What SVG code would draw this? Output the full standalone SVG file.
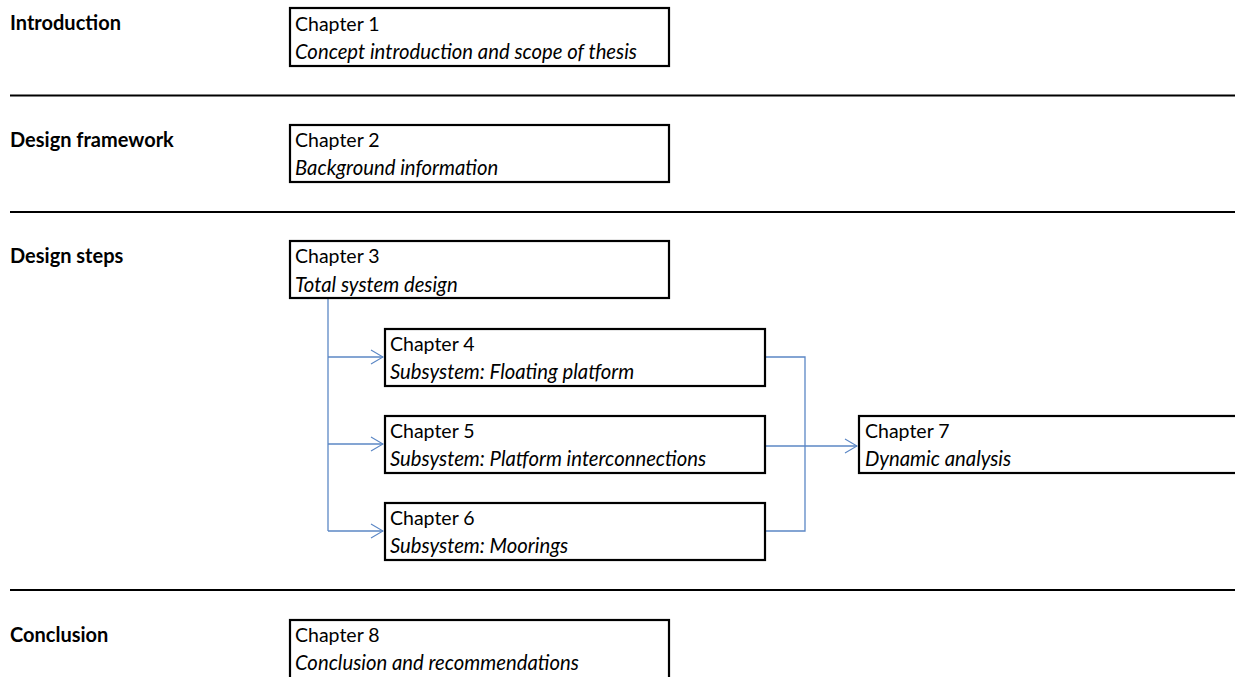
<svg xmlns="http://www.w3.org/2000/svg" width="1235" height="677" viewBox="0 0 1235 677">
<defs>
<marker id="arr" viewBox="0 0 14 16" refX="13" refY="8" markerWidth="14" markerHeight="16" markerUnits="userSpaceOnUse" orient="auto">
<path d="M1,1 L13,8 L1,15" fill="none" stroke="#5b87c5" stroke-width="1.2"/>
</marker>
<style>
.box{fill:#fff;stroke:#000;stroke-width:2.2}
.t{font-family:Lato,"Open Sans","Noto Sans",sans-serif;font-size:19.5px;fill:#000}
.i{font-style:italic;font-size:20.3px}
.h{font-family:Lato,"Open Sans","Noto Sans",sans-serif;font-size:20px;font-weight:bold;fill:#000}
.sep{stroke:#000;stroke-width:2}
.c{fill:none;stroke:#5b87c5;stroke-width:1.3}
</style>
</defs>
<rect width="1235" height="677" fill="#fff"/>
<g id="separators">
<line class="sep" x1="10" y1="95.5" x2="1235" y2="95.5"/>
<line class="sep" x1="10" y1="212" x2="1235" y2="212"/>
<line class="sep" x1="10" y1="590" x2="1235" y2="590"/>
</g>
<g id="labels">
<text class="h" x="10" y="30">Introduction</text>
<text class="h" x="10" y="147">Design framework</text>
<text class="h" x="10" y="263">Design steps</text>
<text class="h" x="10" y="642">Conclusion</text>
</g>
<g id="connectors">
<polyline class="c" points="328,298 328,531"/>
<line class="c" x1="328" y1="357" x2="383" y2="357" marker-end="url(#arr)"/>
<line class="c" x1="328" y1="444" x2="383" y2="444" marker-end="url(#arr)"/>
<line class="c" x1="328" y1="531" x2="383" y2="531" marker-end="url(#arr)"/>
<polyline class="c" points="765,357 805,357 805,531 765,531"/>
<line class="c" x1="765" y1="446" x2="857" y2="446" marker-end="url(#arr)"/>
</g>
<g id="ch1"><rect class="box" x="290" y="8" width="379" height="58"/>
<text class="t" x="295" y="31">Chapter 1</text><text class="t i" x="295" y="59">Concept introduction and scope of thesis</text></g>
<g id="ch2"><rect class="box" x="290" y="125" width="379" height="57"/>
<text class="t" x="295" y="147">Chapter 2</text><text class="t i" x="295" y="175">Background information</text></g>
<g id="ch3"><rect class="box" x="290" y="241" width="379" height="57"/>
<text class="t" x="295" y="263">Chapter 3</text><text class="t i" x="295" y="292">Total system design</text></g>
<g id="ch4"><rect class="box" x="385" y="329" width="380" height="57"/>
<text class="t" x="390" y="351">Chapter 4</text><text class="t i" x="390" y="379">Subsystem: Floating platform</text></g>
<g id="ch5"><rect class="box" x="385" y="416" width="380" height="57"/>
<text class="t" x="390" y="438">Chapter 5</text><text class="t i" x="390" y="466">Subsystem: Platform interconnections</text></g>
<g id="ch6"><rect class="box" x="385" y="503" width="380" height="57"/>
<text class="t" x="390" y="525">Chapter 6</text><text class="t i" x="390" y="553">Subsystem: Moorings</text></g>
<g id="ch7"><rect class="box" x="859" y="416" width="390" height="57"/>
<text class="t" x="865" y="438">Chapter 7</text><text class="t i" x="865" y="466">Dynamic analysis</text></g>
<g id="ch8"><rect class="box" x="290" y="620" width="379" height="70"/>
<text class="t" x="295" y="642">Chapter 8</text><text class="t i" x="295" y="670">Conclusion and recommendations</text></g>
</svg>
